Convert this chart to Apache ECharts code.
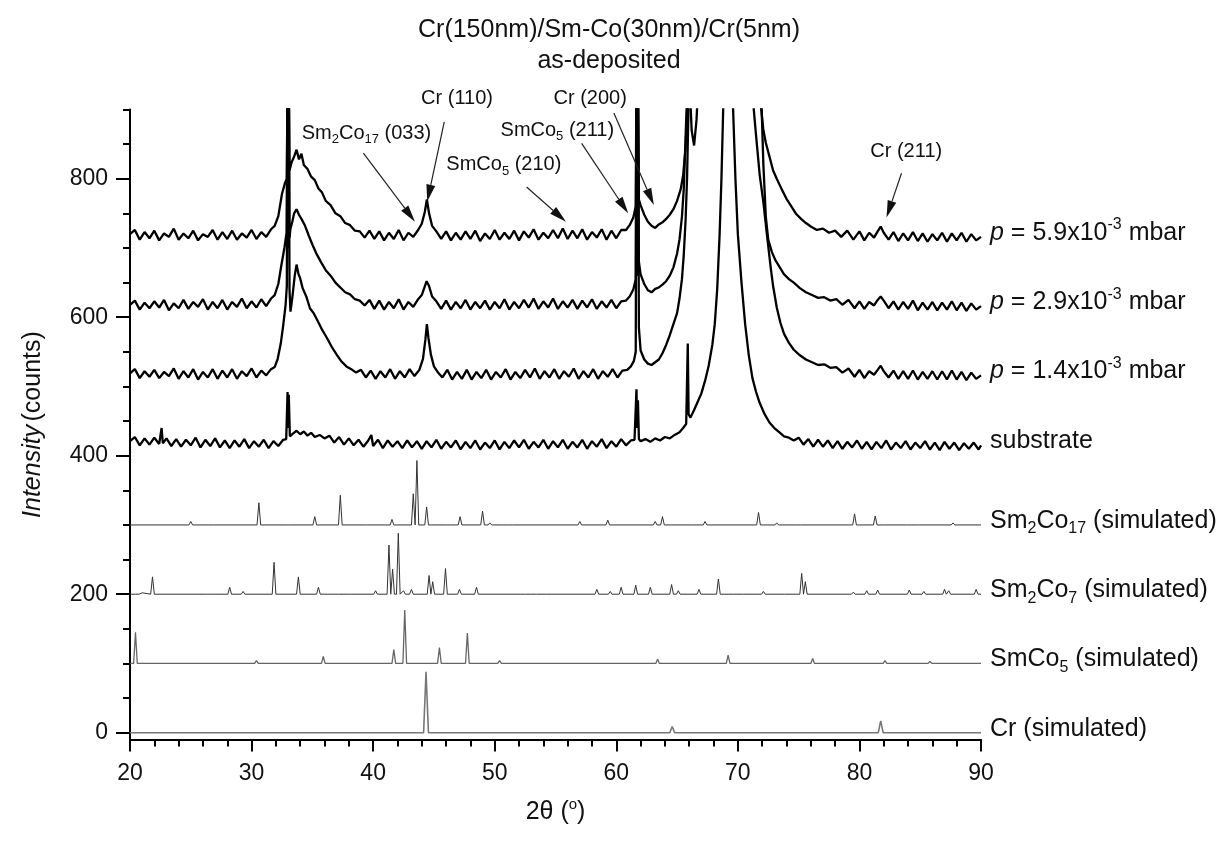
<!DOCTYPE html>
<html><head><meta charset="utf-8">
<script src="https://cdn.jsdelivr.net/npm/echarts@6/dist/echarts.min.js"></script>
<style>html,body{margin:0;padding:0;background:#fff}#c{width:1218px;height:841px}</style>
</head><body><div id="c"></div>
<script>
const FONT = '"Liberation Sans", Arial, Helvetica, sans-serif';

// ---- titles / tick labels ----
const chartTitle = 'Cr(150nm)/Sm-Co(30nm)/Cr(5nm)\nas-deposited';
const xTickValues = [20, 30, 40, 50, 60, 70, 80, 90];
const yMajorTicks = [0, 200, 400, 600, 800];
const yMinorTicks = [50, 100, 150, 250, 300, 350, 450, 500, 550, 650, 700, 750, 850, 900];

// ---- measured patterns [2theta, counts] ----
const p59 = [[20.0,720],[20.4,726],[20.8,712],[21.2,723],[21.6,714],[22.0,725],[22.4,711],[22.8,721],[23.2,716],[23.6,728],[24.0,712],[24.4,721],[24.8,714],[25.2,725],[25.6,711],[26.0,720],[26.4,716],[26.8,726],[27.2,712],[27.6,723],[28.0,713],[28.4,725],[28.8,712],[29.2,721],[29.6,715],[30.0,726],[30.4,713],[30.8,723],[31.2,716],[31.6,727],[31.9,732],[32.2,746],[32.5,778],[32.75,794],[32.9,800],[32.96,960],[33.02,810],[33.06,960],[33.12,812],[33.3,824],[33.5,832],[33.7,842],[33.9,828],[34.1,836],[34.3,820],[34.6,814],[34.9,803],[35.2,798],[35.5,786],[35.8,780],[36.1,768],[36.5,762],[36.9,750],[37.3,746],[37.7,736],[38.1,733],[38.5,725],[38.9,724],[39.3,715],[39.7,725],[40.1,713],[40.5,724],[40.9,711],[41.3,722],[41.7,713],[42.1,726],[42.5,711],[42.9,722],[43.3,716],[43.7,726],[44.0,735],[44.25,752],[44.42,770],[44.6,750],[44.85,732],[45.2,724],[45.6,713],[46.0,724],[46.4,711],[46.8,722],[47.2,712],[47.6,724],[48.0,713],[48.4,725],[48.8,710],[49.2,721],[49.6,713],[50.0,726],[50.4,712],[50.8,722],[51.2,713],[51.6,725],[52.0,711],[52.4,724],[52.8,715],[53.2,727],[53.6,712],[54.0,722],[54.4,714],[54.8,726],[55.2,714],[55.6,728],[56.0,713],[56.4,725],[56.8,714],[57.2,727],[57.6,712],[58.0,723],[58.4,715],[58.8,727],[59.2,712],[59.6,725],[60.0,714],[60.4,726],[60.8,726],[61.1,733],[61.4,744],[61.6,760],[61.66,960],[61.72,790],[61.78,960],[61.86,770],[62.0,762],[62.3,748],[62.6,738],[62.9,732],[63.2,729],[63.5,734],[63.8,737],[64.1,742],[64.4,748],[64.7,756],[65.0,768],[65.3,785],[65.5,805],[65.7,845],[65.85,905],[66.0,950],[66.2,870],[66.4,848],[66.6,885],[66.8,960],[67.3,1150],[68.0,1700],[69.2,4000],[70.5,1700],[71.4,1100],[71.9,905],[72.1,870],[72.3,852],[72.6,832],[72.9,812],[73.2,800],[73.6,785],[74.0,771],[74.4,760],[74.8,749],[75.2,742],[75.6,736],[76.0,731],[76.5,726],[77.0,728],[77.5,722],[78.0,725],[78.5,716],[79.0,725],[79.5,712],[80.0,724],[80.4,711],[80.8,722],[81.2,715],[81.5,724],[81.75,731],[82.0,722],[82.4,712],[82.8,723],[83.2,710],[83.6,721],[84.0,711],[84.4,723],[84.8,710],[85.2,721],[85.6,709],[86.0,720],[86.4,711],[86.8,722],[87.2,709],[87.6,721],[88.0,711],[88.4,722],[88.8,709],[89.2,720],[89.6,711],[90.0,716]];

const p29 = [[20.0,618],[20.4,624],[20.8,611],[21.2,621],[21.6,613],[22.0,623],[22.4,614],[22.8,625],[23.2,610],[23.6,620],[24.0,613],[24.4,625],[24.8,612],[25.2,622],[25.6,615],[26.0,626],[26.4,611],[26.8,622],[27.2,613],[27.6,625],[28.0,611],[28.4,622],[28.8,615],[29.2,627],[29.6,613],[30.0,623],[30.4,614],[30.8,626],[31.2,616],[31.6,627],[31.9,632],[32.2,648],[32.45,675],[32.7,700],[32.88,722],[32.96,960],[33.02,760],[33.06,960],[33.12,715],[33.2,728],[33.35,738],[33.5,750],[33.7,756],[33.9,748],[34.1,742],[34.4,732],[34.7,718],[35.0,705],[35.3,693],[35.7,680],[36.1,668],[36.5,660],[36.9,650],[37.3,643],[37.7,636],[38.1,633],[38.5,626],[38.9,624],[39.3,617],[39.7,625],[40.1,612],[40.5,624],[40.9,611],[41.3,622],[41.7,613],[42.1,626],[42.5,611],[42.9,622],[43.3,615],[43.7,626],[44.0,632],[44.2,642],[44.4,652],[44.6,645],[44.85,630],[45.2,623],[45.6,612],[46.0,624],[46.4,611],[46.8,622],[47.2,613],[47.6,625],[48.0,611],[48.4,622],[48.8,613],[49.2,624],[49.6,611],[50.0,622],[50.4,613],[50.8,626],[51.2,611],[51.6,622],[52.0,613],[52.4,625],[52.8,614],[53.2,627],[53.6,612],[54.0,623],[54.4,614],[54.8,627],[55.2,612],[55.6,623],[56.0,614],[56.4,625],[56.8,612],[57.2,624],[57.6,614],[58.0,626],[58.4,612],[58.8,623],[59.2,614],[59.6,625],[60.0,613],[60.4,623],[60.8,624],[61.1,630],[61.4,640],[61.6,655],[61.66,960],[61.72,700],[61.78,960],[61.86,680],[62.0,662],[62.3,648],[62.6,639],[62.9,636],[63.2,641],[63.5,643],[63.8,647],[64.1,652],[64.4,660],[64.7,672],[65.0,692],[65.2,712],[65.4,745],[65.55,785],[65.7,860],[65.8,910],[66.0,980],[66.5,1100],[67.5,1400],[69.2,4000],[70.8,1500],[71.6,1000],[71.95,905],[72.1,820],[72.3,745],[72.5,712],[72.8,694],[73.1,682],[73.45,672],[73.8,662],[74.2,655],[74.6,650],[75.1,642],[75.6,636],[76.1,632],[76.6,628],[77.1,629],[77.6,624],[78.1,626],[78.6,618],[79.1,625],[79.6,613],[80.0,623],[80.4,612],[80.8,622],[81.2,617],[81.5,625],[81.75,630],[82.0,624],[82.4,613],[82.8,623],[83.2,611],[83.6,622],[84.0,612],[84.4,624],[84.8,610],[85.2,621],[85.6,611],[86.0,622],[86.4,610],[86.8,621],[87.2,611],[87.6,623],[88.0,610],[88.4,621],[88.8,609],[89.2,620],[89.6,611],[90.0,616]];

const p14 = [[20.0,519],[20.4,525],[20.8,512],[21.2,522],[21.6,514],[22.0,524],[22.4,512],[22.8,521],[23.2,515],[23.6,526],[24.0,511],[24.4,522],[24.8,513],[25.2,525],[25.6,510],[26.0,521],[26.4,513],[26.8,525],[27.2,511],[27.6,523],[28.0,513],[28.4,525],[28.8,511],[29.2,522],[29.6,515],[30.0,526],[30.4,513],[30.8,523],[31.2,516],[31.6,525],[31.9,528],[32.15,540],[32.4,562],[32.6,588],[32.8,618],[32.9,645],[32.96,960],[33.02,700],[33.06,960],[33.12,640],[33.2,608],[33.35,628],[33.55,660],[33.7,676],[33.85,663],[34.0,656],[34.2,642],[34.5,630],[34.8,613],[35.1,606],[35.4,596],[35.8,582],[36.2,570],[36.6,557],[37.0,546],[37.4,536],[37.8,529],[38.2,525],[38.6,520],[39.0,524],[39.4,513],[39.8,523],[40.2,511],[40.6,522],[41.0,513],[41.4,525],[41.8,511],[42.2,522],[42.6,513],[43.0,525],[43.4,515],[43.8,524],[44.1,540],[44.3,568],[44.42,590],[44.55,570],[44.75,546],[45.0,529],[45.3,521],[45.7,513],[46.1,524],[46.5,510],[46.9,521],[47.3,511],[47.7,524],[48.1,510],[48.5,521],[48.9,512],[49.3,524],[49.7,510],[50.1,521],[50.5,513],[50.9,525],[51.3,510],[51.7,521],[52.1,512],[52.5,524],[52.9,513],[53.3,526],[53.7,511],[54.1,522],[54.5,513],[54.9,525],[55.3,511],[55.7,522],[56.1,514],[56.5,526],[56.9,511],[57.3,522],[57.7,513],[58.1,525],[58.5,511],[58.9,522],[59.3,514],[59.7,525],[60.1,513],[60.5,523],[60.9,524],[61.2,529],[61.45,537],[61.6,550],[61.66,960],[61.72,660],[61.78,960],[61.86,585],[62.0,552],[62.3,539],[62.6,533],[62.9,531],[63.2,535],[63.5,539],[63.8,548],[64.1,560],[64.4,574],[64.7,590],[65.0,606],[65.2,627],[65.4,655],[65.55,690],[65.7,740],[65.82,800],[65.95,910],[66.3,1000],[67.5,1400],[69.2,4000],[70.6,1300],[71.26,910],[71.5,862],[71.8,805],[72.1,766],[72.4,718],[72.7,672],[72.9,645],[73.2,614],[73.5,592],[73.8,576],[74.2,563],[74.6,553],[75.1,545],[75.6,539],[76.1,535],[76.6,531],[77.1,532],[77.6,527],[78.1,528],[78.6,520],[79.1,526],[79.6,514],[80.0,524],[80.4,512],[80.8,522],[81.2,517],[81.5,524],[81.75,530],[82.0,522],[82.4,513],[82.8,523],[83.2,511],[83.6,522],[84.0,511],[84.4,523],[84.8,510],[85.2,521],[85.6,511],[86.0,522],[86.4,510],[86.8,522],[87.2,510],[87.6,523],[88.0,510],[88.4,521],[88.8,509],[89.2,520],[89.6,511],[90.0,516]];

const substrate = [[20.0,421],[20.4,427],[20.8,415],[21.2,425],[21.6,416],[22.0,426],[22.4,417],[22.6,440],[22.7,418],[23.0,425],[23.4,414],[23.8,424],[24.2,413],[24.6,423],[25.0,415],[25.4,426],[25.8,412],[26.2,423],[26.6,414],[27.0,425],[27.4,412],[27.8,422],[28.2,411],[28.6,422],[29.0,413],[29.4,424],[29.8,411],[30.2,421],[30.6,413],[31.0,423],[31.4,411],[31.8,421],[32.2,414],[32.6,423],[32.85,424],[32.96,492],[33.02,440],[33.06,488],[33.15,428],[33.4,432],[33.7,436],[34.0,431],[34.3,435],[34.6,429],[34.9,433],[35.2,427],[35.6,430],[36.0,425],[36.4,429],[36.8,419],[37.2,427],[37.6,416],[38.0,425],[38.4,415],[38.8,423],[39.2,413],[39.6,422],[39.85,430],[40.0,414],[40.4,423],[40.8,411],[41.2,422],[41.6,413],[42.0,421],[42.4,411],[42.8,422],[43.2,412],[43.6,421],[44.0,410],[44.4,421],[44.8,412],[45.2,423],[45.6,410],[46.0,420],[46.4,412],[46.8,422],[47.2,409],[47.6,420],[48.0,411],[48.4,422],[48.8,409],[49.2,419],[49.6,411],[50.0,422],[50.4,409],[50.8,420],[51.2,411],[51.6,422],[52.0,412],[52.4,423],[52.8,410],[53.2,420],[53.6,412],[54.0,423],[54.4,410],[54.8,421],[55.2,412],[55.6,423],[56.0,410],[56.4,420],[56.8,412],[57.2,423],[57.6,410],[58.0,421],[58.4,413],[58.8,424],[59.2,411],[59.6,421],[60.0,413],[60.4,424],[60.8,415],[61.2,422],[61.5,423],[61.66,496],[61.72,440],[61.78,480],[61.86,424],[62.0,421],[62.4,424],[62.8,420],[63.2,425],[63.6,422],[64.0,427],[64.4,425],[64.8,430],[65.2,434],[65.5,440],[65.75,446],[65.88,562],[65.95,460],[66.1,455],[66.4,466],[66.7,478],[67.0,490],[67.3,508],[67.6,530],[67.9,560],[68.1,590],[68.3,640],[68.5,720],[68.65,800],[68.8,905],[69.2,4000],[69.6,905],[69.8,800],[70.0,720],[70.3,650],[70.6,590],[70.9,545],[71.2,512],[71.5,492],[71.8,476],[72.2,460],[72.6,448],[73.0,440],[73.4,434],[73.8,428],[74.2,426],[74.6,422],[75.0,426],[75.4,416],[75.8,424],[76.2,413],[76.6,423],[77.0,413],[77.4,422],[77.8,411],[78.2,421],[78.6,410],[79.0,420],[79.4,412],[79.8,422],[80.2,410],[80.6,420],[81.0,409],[81.4,420],[81.8,411],[82.2,422],[82.6,409],[83.0,419],[83.4,411],[83.8,421],[84.2,409],[84.6,419],[85.0,411],[85.4,421],[85.8,409],[86.2,419],[86.6,408],[87.0,420],[87.4,410],[87.8,419],[88.2,408],[88.6,418],[89.0,410],[89.4,419],[89.8,409],[90.0,415]];

// ---- simulated patterns: baseline offsets and peak lists [2theta, counts] ----
const sm2co17Base = 300;
const sm2co17Peaks = [[25.0,305],[27.0,302],[30.6,332],[33.05,302],[35.2,312],[37.3,343],[39.6,302],[41.55,308],[43.3,345],[43.6,393],[44.4,326],[46.2,301],[47.15,312],[49.0,320],[49.6,303],[50.6,301],[51.3,302],[57.0,305],[59.3,307],[63.2,305],[63.8,312],[66.05,302],[67.3,305],[71.7,318],[73.2,303],[75.0,301],[79.6,316],[81.3,313],[82.2,302],[84.1,301],[85.0,301],[87.7,303]];
const sm2co7Base = 200;
const sm2co7Peaks = [[20.6,202],[21.0,202],[21.85,225],[26.5,202],[28.2,210],[29.3,204],[31.85,246],[33.85,225],[35.5,210],[37.0,202],[38.1,202],[40.2,205],[41.3,271],[41.6,236],[42.07,288],[42.5,205],[43.15,207],[44.6,227],[44.9,218],[45.95,237],[47.1,207],[48.5,210],[52.3,202],[52.8,202],[53.3,202],[54.4,202],[58.4,207],[59.5,204],[60.4,210],[61.6,213],[62.8,210],[64.55,214],[65.1,205],[66.8,207],[68.4,222],[69.5,202],[70.6,201],[72.1,204],[73.7,201],[75.25,230],[75.55,218],[79.5,203],[80.6,205],[81.5,206],[84.1,206],[85.3,204],[87.0,207],[87.35,205],[89.6,207]];
const smco5Base = 100;
const smco5Peaks = [[20.45,145],[30.4,104],[35.9,110],[41.7,120],[42.6,177],[45.45,123],[47.75,144],[50.4,104],[56.2,102],[59.3,101],[61.1,101],[63.4,106],[69.2,112],[75.1,101],[76.15,107],[79.7,101],[82.1,104],[85.8,103]];
const crBase = 0;
const crPeaks = [[44.35,88],[64.6,9],[81.75,17]];

// ---- series labels ----
const seriesLabels = {
  p59: '{i|p}{t| = 5.9x10}{sup|-3}{t| mbar}',
  p29: '{i|p}{t| = 2.9x10}{sup|-3}{t| mbar}',
  p14: '{i|p}{t| = 1.4x10}{sup|-3}{t| mbar}',
  substrate: '{t|substrate}',
  sm2co17: '{t|Sm}{sub|2}{t|Co}{sub|17}{t| (simulated)}',
  sm2co7: '{t|Sm}{sub|2}{t|Co}{sub|7}{t| (simulated)}',
  smco5: '{t|SmCo}{sub|5}{t| (simulated)}',
  cr: '{t|Cr (simulated)}'
};

// ---- peak annotations (text anchor, arrow start, arrow tip in data units) ----
const annotations = [
  { text: '{t|Sm}{s|2}{t|Co}{s|17}{t| (033)}', at: [39.45, 866], from: [39.2, 837], tip: [43.44, 738] },
  { text: '{t|Cr (110)}', at: [46.9, 916], from: [45.85, 882], tip: [44.45, 767] },
  { text: '{t|SmCo}{s|5}{t| (210)}', at: [50.75, 820], from: [52.62, 788], tip: [55.86, 738] },
  { text: '{t|SmCo}{s|5}{t| (211)}', at: [55.15, 870], from: [57.15, 851], tip: [60.98, 750] },
  { text: '{t|Cr (200)}', at: [57.85, 916], from: [59.8, 895], tip: [63.09, 762] },
  { text: '{t|Cr (211)}', at: [83.85, 839], from: [83.46, 808], tip: [82.23, 744] }
];

function stickProfile(peaks, base, w) {
  const out = [[20, base]];
  for (let i = 0; i < peaks.length; i++) {
    const p = peaks[i], prev = peaks[i - 1], next = peaks[i + 1];
    if (!prev || p[0] - w > prev[0] + w) out.push([p[0] - w, base]);
    out.push(p);
    if (!next || next[0] - w > p[0] + w) out.push([p[0] + w, base]);
    else out.push([(p[0] + next[0]) / 2, base]);
  }
  out.push([90, base]);
  return out;
}

const labelRich = {
  t: { fontFamily: FONT, fontSize: 25, color: '#111', lineHeight: 32, verticalAlign: 'middle' },
  i: { fontFamily: FONT, fontSize: 25, color: '#111', fontStyle: 'italic', lineHeight: 32, verticalAlign: 'middle' },
  sub: { fontFamily: FONT, fontSize: 16, color: '#111', lineHeight: 16, verticalAlign: 'bottom' },
  sup: { fontFamily: FONT, fontSize: 16, color: '#111', lineHeight: 16, verticalAlign: 'top' }
};
function endLabel(key) {
  return { show: true, formatter: seriesLabels[key], rich: labelRich, distance: 9, offset: [0, -4] };
}
function measured(key, data) {
  return { type: 'line', data: data, showSymbol: false, silent: true, clip: true,
    lineStyle: { color: '#000', width: 2.3 }, endLabel: endLabel(key), z: 3 };
}
function simulated(key, data, color, width) {
  return { type: 'line', data: data, showSymbol: false, silent: true, clip: true,
    lineStyle: { color: color, width: width }, endLabel: endLabel(key), z: 2 };
}

const chart = echarts.init(document.getElementById('c'), null, { renderer: 'canvas' });
chart.setOption({
  animation: false,
  backgroundColor: '#fff',
  title: {
    text: chartTitle, left: 'center', top: 15, padding: 0,
    textStyle: { fontFamily: FONT, fontSize: 25, fontWeight: 'normal', color: '#111', lineHeight: 31 }
  },
  grid: { left: 130, right: 237, top: 109.5, bottom: 101.4, containLabel: false },
  xAxis: {
    type: 'value', min: 20, max: 90, interval: 10,
    name: '{n|2θ (}{sup|o}{n|)}', nameLocation: 'middle', nameGap: 58,
    nameTextStyle: { rich: {
      n: { fontFamily: FONT, fontSize: 25, color: '#111', lineHeight: 30, verticalAlign: 'middle' },
      sup: { fontFamily: FONT, fontSize: 15, color: '#111', lineHeight: 14, verticalAlign: 'top' } } },
    axisLine: { onZero: false, lineStyle: { color: '#000', width: 2 } },
    axisTick: { inside: false, length: 12, lineStyle: { color: '#000', width: 2 } },
    minorTick: { show: true, splitNumber: 5, length: 7, lineStyle: { color: '#000', width: 2 } },
    axisLabel: { fontFamily: FONT, fontSize: 23, color: '#111', margin: 23,
      formatter: v => (xTickValues.indexOf(v) >= 0 ? String(v) : '') },
    splitLine: { show: false }, minorSplitLine: { show: false }
  },
  yAxis: [{
    type: 'value', min: -10, max: 900, position: 'left',
    name: '{i|Intensity} {n|(counts)}', nameLocation: 'middle', nameGap: 84,
    nameTextStyle: { rich: {
      i: { fontFamily: FONT, fontSize: 25, color: '#111', fontStyle: 'italic' },
      n: { fontFamily: FONT, fontSize: 25, color: '#111' } } },
    axisLine: { onZero: false, lineStyle: { color: '#000', width: 2 } },
    axisTick: { inside: false, length: 14, customValues: yMajorTicks, lineStyle: { color: '#000', width: 2 } },
    axisLabel: { fontFamily: FONT, fontSize: 23, color: '#111', margin: 22, customValues: yMajorTicks },
    splitLine: { show: false }
  }, {
    type: 'value', min: -10, max: 900, position: 'left',
    axisLine: { show: false, onZero: false },
    axisTick: { show: true, inside: false, length: 7, customValues: yMinorTicks, lineStyle: { color: '#000', width: 2 } },
    axisLabel: { show: false },
    splitLine: { show: false }
  }],
  series: [
    simulated('cr', stickProfile(crPeaks, crBase, 0.2), '#777', 1.6),
    simulated('smco5', stickProfile(smco5Peaks, smco5Base, 0.15), '#666', 1.3),
    simulated('sm2co7', stickProfile(sm2co7Peaks, sm2co7Base, 0.15), '#333', 1),
    simulated('sm2co17', stickProfile(sm2co17Peaks, sm2co17Base, 0.15), '#333', 1),
    measured('substrate', substrate),
    measured('p14', p14),
    measured('p29', p29),
    measured('p59', p59)
  ]
});

// annotations placed through the axes' scales
const annRich = {
  t: { fontFamily: FONT, fontSize: 20, fill: '#111', lineHeight: 26, verticalAlign: 'middle' },
  s: { fontFamily: FONT, fontSize: 13, fill: '#111', lineHeight: 12, verticalAlign: 'bottom' }
};
const toPx = pt => chart.convertToPixel({ xAxisIndex: 0, yAxisIndex: 0 }, pt);
const g = [];
annotations.forEach(a => {
  const c = toPx(a.at);
  g.push({ type: 'text', x: c[0], y: c[1], silent: true, z: 10,
    style: { text: a.text, rich: annRich, align: 'center', verticalAlign: 'middle', fill: '#111' } });
  const s = toPx(a.from), e = toPx(a.tip);
  const dx = e[0] - s[0], dy = e[1] - s[1], L = Math.hypot(dx, dy), ux = dx / L, uy = dy / L;
  const hl = 17, hw = 4.5;
  const bx = e[0] - ux * hl, by = e[1] - uy * hl;
  g.push({ type: 'line', silent: true, z: 10, shape: { x1: s[0], y1: s[1], x2: bx, y2: by },
    style: { stroke: '#222', lineWidth: 1.2 } });
  g.push({ type: 'polygon', silent: true, z: 10,
    shape: { points: [[e[0], e[1]], [bx - uy * hw, by + ux * hw], [bx + uy * hw, by - ux * hw]] },
    style: { fill: '#111' } });
});
chart.setOption({ graphic: g });
</script>
</body></html>
